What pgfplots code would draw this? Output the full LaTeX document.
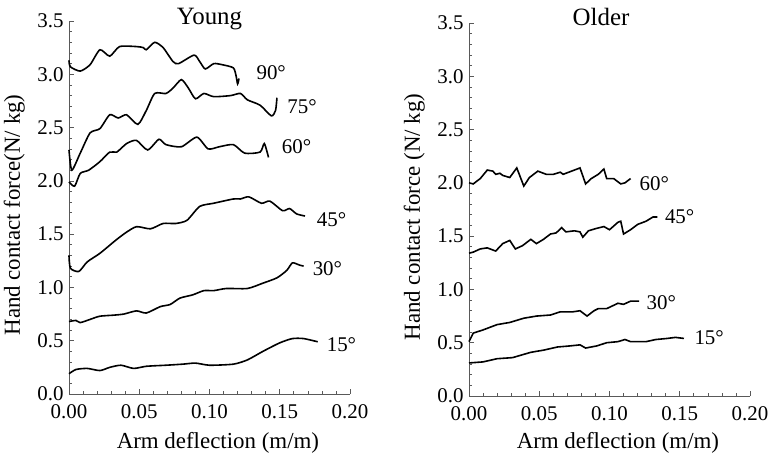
\documentclass[border=0pt]{standalone}
\usepackage{pgfplots}
\pgfplotsset{compat=1.18}
\usepackage{fontspec}
\setmainfont{Liberation Serif}

\tikzset{deg/.style={font=\fontsize{21}{25}\selectfont, anchor=west}}
\pgfplotsset{
  armstyle/.style={
    scale only axis,
    width=281bp, height=373bp,
    xmin=0, xmax=0.2, ymin=0, ymax=3.5,
    axis lines=left,
    axis line style={-, draw=black!65, line width=0.8bp},
    tick align=inside,
    major tick length=5bp, minor tick length=3bp,
    tick style={black!65, line width=0.7bp},
    xtick={0,0.05,0.1,0.15,0.2}, minor x tick num=4,
    ytick={0,0.5,...,3.5}, minor y tick num=4,
    /pgf/number format/assume math mode=true,
    xticklabel style={yshift=-7bp, /pgf/number format/.cd, fixed, fixed zerofill, precision=2},
    yticklabel style={xshift=-2bp, /pgf/number format/.cd, fixed, fixed zerofill, precision=1},
    tick label style={font=\fontsize{21}{25}\selectfont},
    label style={font=\fontsize{23}{27}\selectfont},
    every axis title/.style={font=\fontsize{25}{30}\selectfont, anchor=base},
    ylabel style={at={(axis description cs:-0.195,0.48)}, anchor=center},
    clip=false,
    cycle list={{black}},
    no markers,
    every axis plot/.append style={line width=1.6bp},
  },
}

\begin{document}
\begin{tikzpicture}
\useasboundingbox (0,0) rectangle (773bp,455bp);
% ---------------- Young ----------------
\begin{axis}[armstyle, at={(69bp,61bp)}, anchor=origin,
  title={Young}, title style={at={(axis description cs:0.50,1)}, yshift=-4bp},
  xlabel={Arm deflection (m/m)},
  xlabel style={at={(axis description cs:0.53,-0.131)}, anchor=center},
  ylabel={Hand contact force(N/ kg)},
  every axis plot/.append style={smooth, tension=0.4}]
% 90 deg
\addplot coordinates {(0,3.13) (0.001,3.07) (0.008,3.03) (0.015,3.09) (0.022,3.23) (0.029,3.17)
  (0.036,3.26) (0.048,3.26) (0.053,3.25) (0.055,3.23) (0.061,3.30) (0.067,3.25) (0.074,3.12)
  (0.078,3.10) (0.089,3.18) (0.093,3.12) (0.097,3.05) (0.103,3.10) (0.109,3.09) (0.117,3.06)
  (0.119,2.98) (0.120,2.91) (0.121,2.96)};
% 75 deg
\addplot coordinates {(0,2.29) (0.002,2.10) (0.008,2.26) (0.015,2.45) (0.022,2.49) (0.029,2.62)
  (0.035,2.59) (0.041,2.62) (0.049,2.53) (0.055,2.66) (0.061,2.82) (0.069,2.82) (0.074,2.87)
  (0.080,2.95) (0.085,2.87) (0.090,2.77) (0.096,2.82) (0.103,2.79) (0.115,2.80) (0.122,2.82)
  (0.127,2.76) (0.136,2.71) (0.144,2.61) (0.147,2.66) (0.148,2.78)};
% 60 deg
\addplot coordinates {(0,1.99) (0.004,1.95) (0.008,2.07) (0.014,2.10) (0.022,2.18) (0.029,2.27)
  (0.034,2.27) (0.041,2.35) (0.048,2.38) (0.056,2.29) (0.064,2.39) (0.069,2.34) (0.080,2.32)
  (0.091,2.41) (0.099,2.30) (0.107,2.32) (0.117,2.34) (0.125,2.26) (0.136,2.27) (0.139,2.35)
  (0.142,2.22)};
% 45 deg
\addplot coordinates {(0,1.30) (0.001,1.18) (0.007,1.15) (0.013,1.24) (0.022,1.32) (0.033,1.44)
  (0.040,1.51) (0.048,1.57) (0.058,1.55) (0.067,1.60) (0.076,1.60) (0.084,1.63) (0.093,1.76)
  (0.103,1.79) (0.117,1.83) (0.122,1.83) (0.128,1.85) (0.137,1.79) (0.143,1.81) (0.152,1.72)
  (0.157,1.74) (0.162,1.69) (0.168,1.67)};
% 30 deg
\addplot coordinates {(0,0.68) (0.005,0.69) (0.008,0.67) (0.015,0.70) (0.022,0.73) (0.032,0.74)
  (0.039,0.75) (0.048,0.78) (0.055,0.76) (0.065,0.82) (0.072,0.84) (0.079,0.90) (0.088,0.93)
  (0.096,0.97) (0.103,0.97) (0.112,0.99) (0.127,0.99) (0.138,1.04) (0.148,1.09) (0.155,1.16)
  (0.159,1.23) (0.164,1.21) (0.167,1.20)};
% 15 deg
\addplot coordinates {(0,0.19) (0.005,0.23) (0.013,0.24) (0.022,0.22) (0.029,0.25) (0.037,0.27)
  (0.046,0.24) (0.055,0.26) (0.069,0.27) (0.081,0.28) (0.090,0.29) (0.100,0.27) (0.117,0.28)
  (0.127,0.32) (0.138,0.40) (0.150,0.48) (0.159,0.52) (0.167,0.52) (0.177,0.49)};
\node[deg] at (axis cs:0.131,3.02) {90°};
\node[deg] at (axis cs:0.153,2.70) {75°};
\node[deg] at (axis cs:0.149,2.32) {60°};
\node[deg] at (axis cs:0.174,1.64) {45°};
\node[deg] at (axis cs:0.171,1.18) {30°};
\node[deg] at (axis cs:0.181,0.46) {15°};
\end{axis}
% ---------------- Older ----------------
\begin{axis}[armstyle, at={(469bp,59bp)}, anchor=origin,
  title={Older}, title style={at={(axis description cs:0.47,1)}, yshift=-3bp},
  xlabel={Arm deflection (m/m)},
  xlabel style={at={(axis description cs:0.53,-0.125)}, anchor=center},
  ylabel={Hand contact force (N/ kg)}]
% 60 deg
\addplot coordinates {(0,2.00) (0.003,1.99) (0.008,2.04) (0.013,2.12) (0.017,2.11) (0.019,2.08)
  (0.022,2.09) (0.024,2.07) (0.029,2.05) (0.034,2.14) (0.039,1.97) (0.043,2.05) (0.049,2.11)
  (0.055,2.08) (0.060,2.08) (0.065,2.10) (0.067,2.08) (0.073,2.11) (0.079,2.14) (0.083,1.99)
  (0.087,2.04) (0.092,2.08) (0.096,2.13) (0.098,2.04) (0.103,2.04) (0.108,1.99) (0.111,2.00)
  (0.115,2.04)};
% 45 deg
\addplot coordinates {(0,1.34) (0.003,1.35) (0.008,1.38) (0.013,1.39) (0.019,1.36) (0.024,1.43)
  (0.029,1.46) (0.033,1.38) (0.038,1.41) (0.044,1.47) (0.048,1.43) (0.053,1.47) (0.058,1.52)
  (0.062,1.53) (0.066,1.58) (0.069,1.54) (0.075,1.55) (0.079,1.54) (0.081,1.49) (0.085,1.55)
  (0.090,1.57) (0.096,1.59) (0.100,1.56) (0.106,1.63) (0.108,1.64) (0.110,1.52) (0.115,1.56)
  (0.120,1.61) (0.122,1.62) (0.126,1.64) (0.131,1.68) (0.134,1.68)};
% 30 deg
\addplot coordinates {(0,0.51) (0.003,0.59) (0.010,0.62) (0.020,0.67) (0.029,0.69) (0.039,0.73)
  (0.048,0.75) (0.058,0.76) (0.065,0.79) (0.074,0.79) (0.079,0.80) (0.084,0.75) (0.089,0.80)
  (0.092,0.82) (0.098,0.82) (0.106,0.87) (0.110,0.86) (0.115,0.89) (0.121,0.89)};
% 15 deg
\addplot coordinates {(0,0.31) (0.010,0.32) (0.020,0.35) (0.031,0.36) (0.044,0.41) (0.053,0.43)
  (0.063,0.46) (0.072,0.47) (0.079,0.48) (0.083,0.45) (0.091,0.47) (0.098,0.50) (0.106,0.51)
  (0.111,0.53) (0.115,0.51) (0.126,0.51) (0.133,0.53) (0.141,0.54) (0.147,0.55) (0.153,0.54)};
\node[deg] at (axis cs:0.119,1.99) {60°};
\node[deg] at (axis cs:0.137,1.68) {45°};
\node[deg] at (axis cs:0.124,0.88) {30°};
\node[deg] at (axis cs:0.158,0.55) {15°};
\end{axis}
\end{tikzpicture}
\end{document}
